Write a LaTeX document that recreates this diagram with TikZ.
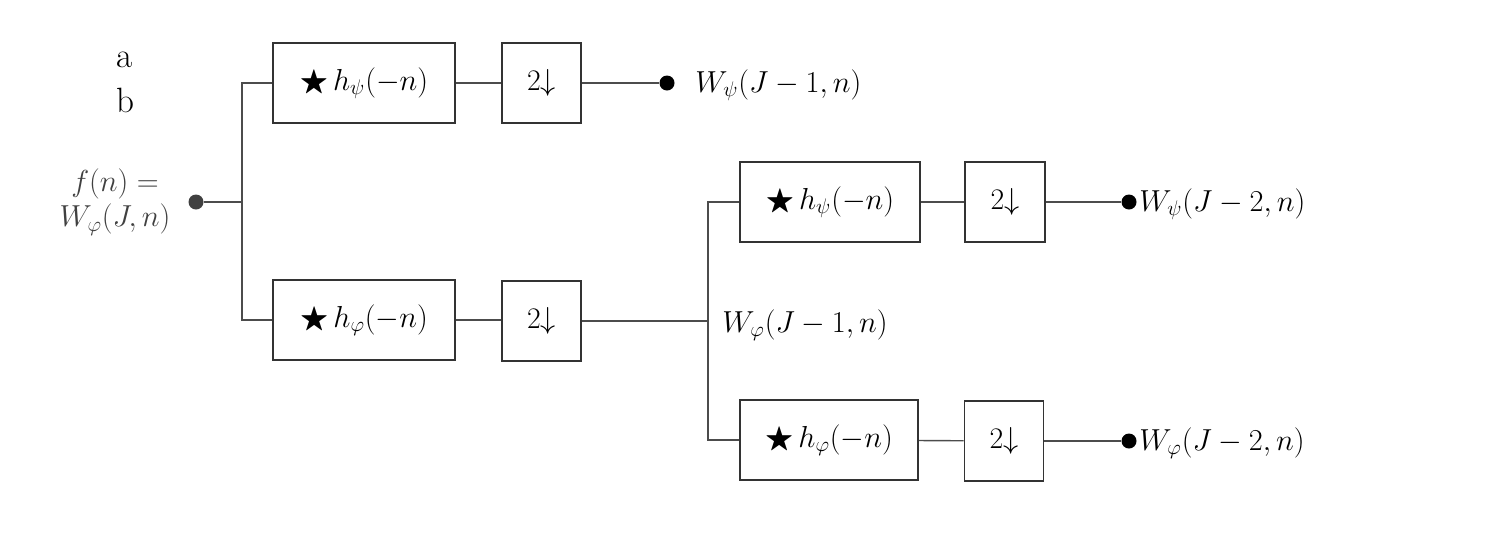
\documentclass[tikz,border=0pt]{standalone}
\providecommand{\PXu}{0.02}
\providecommand{\FBw}{182}
\providecommand{\FBh}{80}
\providecommand{\DSw}{79}
\usepackage{amssymb}
\usepackage{tikz}
\tikzset{
  blk/.style={rectangle, draw=black!80, line width=0.9pt, inner sep=0pt,
              font=\fontsize{17}{20}\selectfont},
  filtbox/.style={blk, minimum width={\FBw*\PXu cm}, minimum height={\FBh*\PXu cm}},
  dsbox/.style={blk, minimum width={\DSw*\PXu cm}, minimum height={\FBh*\PXu cm}},
  tap/.style={circle, fill=black, inner sep=0pt, minimum size={15*\PXu cm}},
  lbl/.style={inner sep=0pt, font=\fontsize{17}{20}\selectfont},
  wire/.style={draw=black!70, line width=0.8pt}
}

\begin{document}
\begin{tikzpicture}[x={\PXu cm}, y={-\PXu cm}]

\useasboundingbox (0,0) rectangle (1502,538);

% stage 1
\node[lbl, font=\fontsize{20}{24}\selectfont] (la) at (125,60) {a};
\node[lbl, font=\fontsize{20}{24}\selectfont] (lb) at (125,100) {b};

\node[lbl, align=center, text=black!75] (inlbl) at (115,202)
    {$f(n) =$\\$W_\varphi(J, n)$};
\node[tap, fill=black!75] (in) at (196,202) {};
\coordinate (split) at (242,202);

\node (hpsiA) [filtbox] at (364,83) {$\bigstar\,h_\psi(-n)$};
\node (dsA) [dsbox] at (541.5,83) {2$\downarrow$};
\node (outA) [tap] at (667,83) {};
\node[lbl, anchor=west] (wpsiA) at (695,85) {$W_\psi(J-1, n)$};

\node (hphiA) [filtbox] at (364,320) {$\bigstar\,h_\varphi(-n)$};
\node (dsB) [dsbox] at (541.5,321) {2$\downarrow$};
\coordinate (splitB) at (708,321);
\node[lbl, anchor=west] (wphiA) at (722,325) {$W_\varphi(J-1, n)$};

% stage 2
\node (hpsiB) [filtbox, minimum width={180*\PXu cm}] at (830,202) {$\bigstar\,h_\psi(-n)$};
\node (dsC) [dsbox, minimum width={80*\PXu cm}] at (1005,202) {2$\downarrow$};
\node (outB) [tap] at (1129,202) {};
\node[lbl, anchor=west] (wpsiB) at (1139,204) {$W_\psi(J-2, n)$};

\node (hphiB) [filtbox, minimum width={178*\PXu cm}] at (829,440) {$\bigstar\,h_\varphi(-n)$};
\node (dsD) [dsbox] at (1004,441) {2$\downarrow$};
\node (outC) [tap] at (1129,441) {};
\node[lbl, anchor=west] (wphiB) at (1139,443) {$W_\varphi(J-2, n)$};

% Input -> filters
\draw[wire] (in) -- (split);
\draw[wire] (split) |- (hpsiA.west);
\draw[wire] (split) |- (hphiA.west);

% Filters -> downsamplers -> outputs
\draw[wire] (hpsiA) -- (dsA);
\draw[wire] (dsA) -- (outA);
\draw[wire] (hphiA.east) -- (dsB.west |- hphiA.east);
\draw[wire] (dsB) -- (splitB);

\draw[wire] (splitB) |- (hpsiB.west);
\draw[wire] (splitB) |- (hphiB.west);

\draw[wire] (hpsiB) -- (dsC);
\draw[wire] (dsC) -- (outB);
\draw[wire] (hphiB) -- (dsD);
\draw[wire] (dsD) -- (outC);

\end{tikzpicture}
\end{document}
